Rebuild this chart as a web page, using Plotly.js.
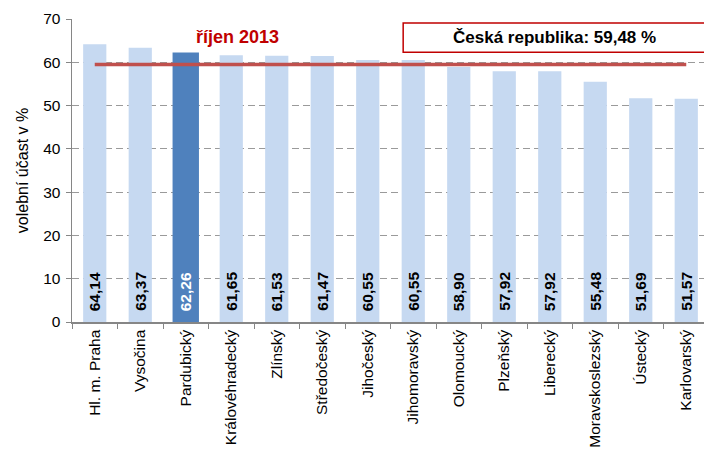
<!DOCTYPE html>
<html>
<head>
<meta charset="utf-8">
<script src="https://cdn.plot.ly/plotly-3.0.1.min.js"></script>
<style>html,body{margin:0;padding:0;background:#fff;}#chart{width:704px;height:450px;}</style>
</head>
<body>
<div id="chart"></div>
<script>
const regions = ["Hl. m. Praha","Vysočina","Pardubický","Královéhradecký","Zlínský","Středočeský","Jihočeský","Jihomoravský","Olomoucký","Plzeňský","Liberecký","Moravskoslezský","Ústecký","Karlovarský"];
const turnout = [64.14,63.37,62.26,61.65,61.53,61.47,60.55,60.55,58.90,57.92,57.92,55.48,51.69,51.57];
const labels = ["64,14","63,37","62,26","61,65","61,53","61,47","60,55","60,55","58,90","57,92","57,92","55,48","51,69","51,57"];
const highlight = "Pardubický";
const national = 59.48;
const nationalLabel = "Česká republika: 59,48 %";
const periodLabel = "říjen 2013";
const yTitle = "volební účast v %";

const colors = regions.map(r => r === highlight ? "#4f81bd" : "#c6d9f1");
const widths = regions.map(r => r === highlight ? 0.58 : 0.51);

const font = "Arial, 'Liberation Sans', sans-serif";

const traces = [
  {
    type: "bar",
    x: regions,
    y: turnout,
    width: widths,
    marker: {color: colors},
    hoverinfo: "x+y"
  },
  {
    type: "scatter",
    mode: "lines",
    x: regions,
    y: regions.map(() => national),
    line: {color: "#c0504d", width: 3.5},
    hoverinfo: "skip"
  }
];

const valueAnnotations = regions.map((r, i) => ({
  xref: "x", yref: "y",
  x: r, y: 0,
  text: "<b>" + labels[i] + "</b>",
  textangle: -90,
  showarrow: false,
  xanchor: "center", yanchor: "bottom",
  yshift: 9,
  font: {family: font, size: 15.5, color: r === highlight ? "#ffffff" : "#000000"}
}));

const layout = {
  width: 704,
  height: 450,
  margin: {l: 72, r: 0, t: 19, b: 128},
  paper_bgcolor: "#ffffff",
  plot_bgcolor: "#ffffff",
  showlegend: false,
  font: {family: font, size: 15.5, color: "#000"},
  xaxis: {
    type: "category",
    range: [-0.5, 13.39],
    showline: true,
    linecolor: "#868686",
    linewidth: 1.5,
    ticks: "outside",
    tickson: "boundaries",
    ticklen: 5,
    tickcolor: "#868686",
    tickangle: -90,
    tickfont: {family: font, size: 15.5, color: "#000"},
    showgrid: false
  },
  yaxis: {
    range: [0, 70],
    dtick: 10,
    showline: true,
    linecolor: "#868686",
    linewidth: 1.5,
    ticks: "outside",
    ticklen: 5,
    tickcolor: "#868686",
    ticklabelstandoff: 2,
    tickfont: {family: font, size: 15.5, color: "#000"},
    showgrid: true,
    gridcolor: "#9a9a9a",
    griddash: "7px,4px",
    gridwidth: 1,
    zeroline: false,
    title: {text: yTitle, font: {family: font, size: 16, color: "#000"}, standoff: 10}
  },
  shapes: [
    {
      type: "rect",
      xref: "paper", yref: "y",
      x0: 0.524, x1: 1.02,
      y0: 62.3, y1: 69.1,
      line: {color: "#c00000", width: 1.5},
      fillcolor: "#ffffff",
      layer: "above"
    }
  ],
  annotations: valueAnnotations.concat([
    {
      xref: "paper", yref: "y",
      x: 0.764, y: 65.7,
      text: "<b>" + nationalLabel + "</b>",
      showarrow: false,
      font: {family: font, size: 17, color: "#000"},
      xanchor: "center", yanchor: "middle"
    },
    {
      xref: "paper", yref: "y",
      x: 0.262, y: 65.8,
      text: "<b>" + periodLabel + "</b>",
      showarrow: false,
      font: {family: font, size: 18, color: "#c00000"},
      xanchor: "center", yanchor: "middle"
    }
  ])
};

Plotly.newPlot("chart", traces, layout, {displayModeBar: false, staticPlot: true});
</script>
</body>
</html>
